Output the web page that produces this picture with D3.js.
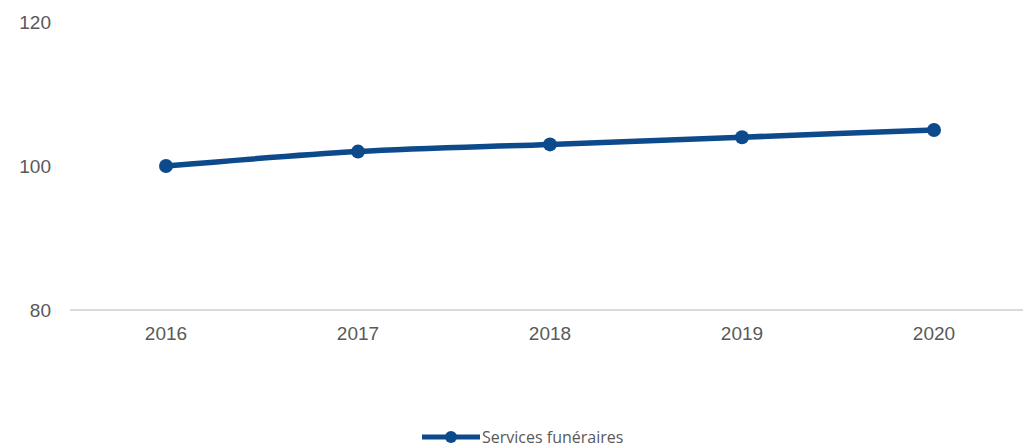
<!DOCTYPE html>
<html>
<head>
<meta charset="utf-8">
<title>Services funéraires</title>
<script src="https://d3js.org/d3.v7.min.js"></script>
<style>
  body { margin: 0; background: #fff; }
  .axis text { font-family: "Liberation Sans", Arial, sans-serif; font-size: 19px; fill: #595959; }
  .legend text { font-family: "Open Sans", "Liberation Sans", sans-serif; font-size: 16px; fill: #595959; }
</style>
</head>
<body>
<svg width="1023" height="447"></svg>
<script>
// data
var years = ["2016", "2017", "2018", "2019", "2020"];
var values = [100, 102, 103, 104, 105];
var yTicks = [80, 100, 120];
var seriesName = "Services funéraires";

var svg = d3.select("svg");
var color = "#0d4a8c";

// plot area (note: "top" is reserved on window, so use other names)
var plotLeft = 70, plotRight = 1030, plotTop = 22, plotBottom = 310;

var xs = d3.scaleBand().domain(years).range([plotLeft, plotRight]);
var ys = d3.scaleLinear().domain([80, 120]).range([plotBottom, plotTop]);

// baseline
svg.append("line")
  .attr("x1", plotLeft).attr("x2", 1023)
  .attr("y1", ys(80)).attr("y2", ys(80))
  .attr("stroke", "#d9d9d9").attr("stroke-width", 2);

// y labels
svg.append("g").attr("class", "axis")
  .selectAll("text")
  .data(yTicks)
  .enter().append("text")
  .attr("x", 51).attr("y", function(d){ return ys(d); })
  .attr("dy", "0.35em")
  .attr("text-anchor", "end")
  .text(function(d){ return d; });

// x labels
svg.append("g").attr("class", "axis")
  .selectAll("text")
  .data(years)
  .enter().append("text")
  .attr("x", function(d){ return xs(d) + xs.bandwidth()/2; })
  .attr("y", ys(80) + 30)
  .attr("text-anchor", "middle")
  .text(function(d){ return d; });

var pts = years.map(function(y, i){ return [xs(y) + xs.bandwidth()/2, ys(values[i])]; });

svg.append("path")
  .datum(pts)
  .attr("fill", "none")
  .attr("stroke", color)
  .attr("stroke-width", 5.5)
  .attr("stroke-linejoin", "round")
  .attr("d", d3.line().curve(d3.curveMonotoneX));

svg.selectAll("circle.pt")
  .data(pts)
  .enter().append("circle")
  .attr("class", "pt")
  .attr("cx", function(d){ return d[0]; })
  .attr("cy", function(d){ return d[1]; })
  .attr("r", 7)
  .attr("fill", color);

// legend
var lg = svg.append("g").attr("class", "legend");
lg.append("line")
  .attr("x1", 422).attr("x2", 480).attr("y1", 437).attr("y2", 437)
  .attr("stroke", color).attr("stroke-width", 5);
lg.append("circle").attr("cx", 451).attr("cy", 437).attr("r", 6).attr("fill", color);
lg.append("text").attr("x", 482).attr("y", 443).text(seriesName);
</script>
</body>
</html>
